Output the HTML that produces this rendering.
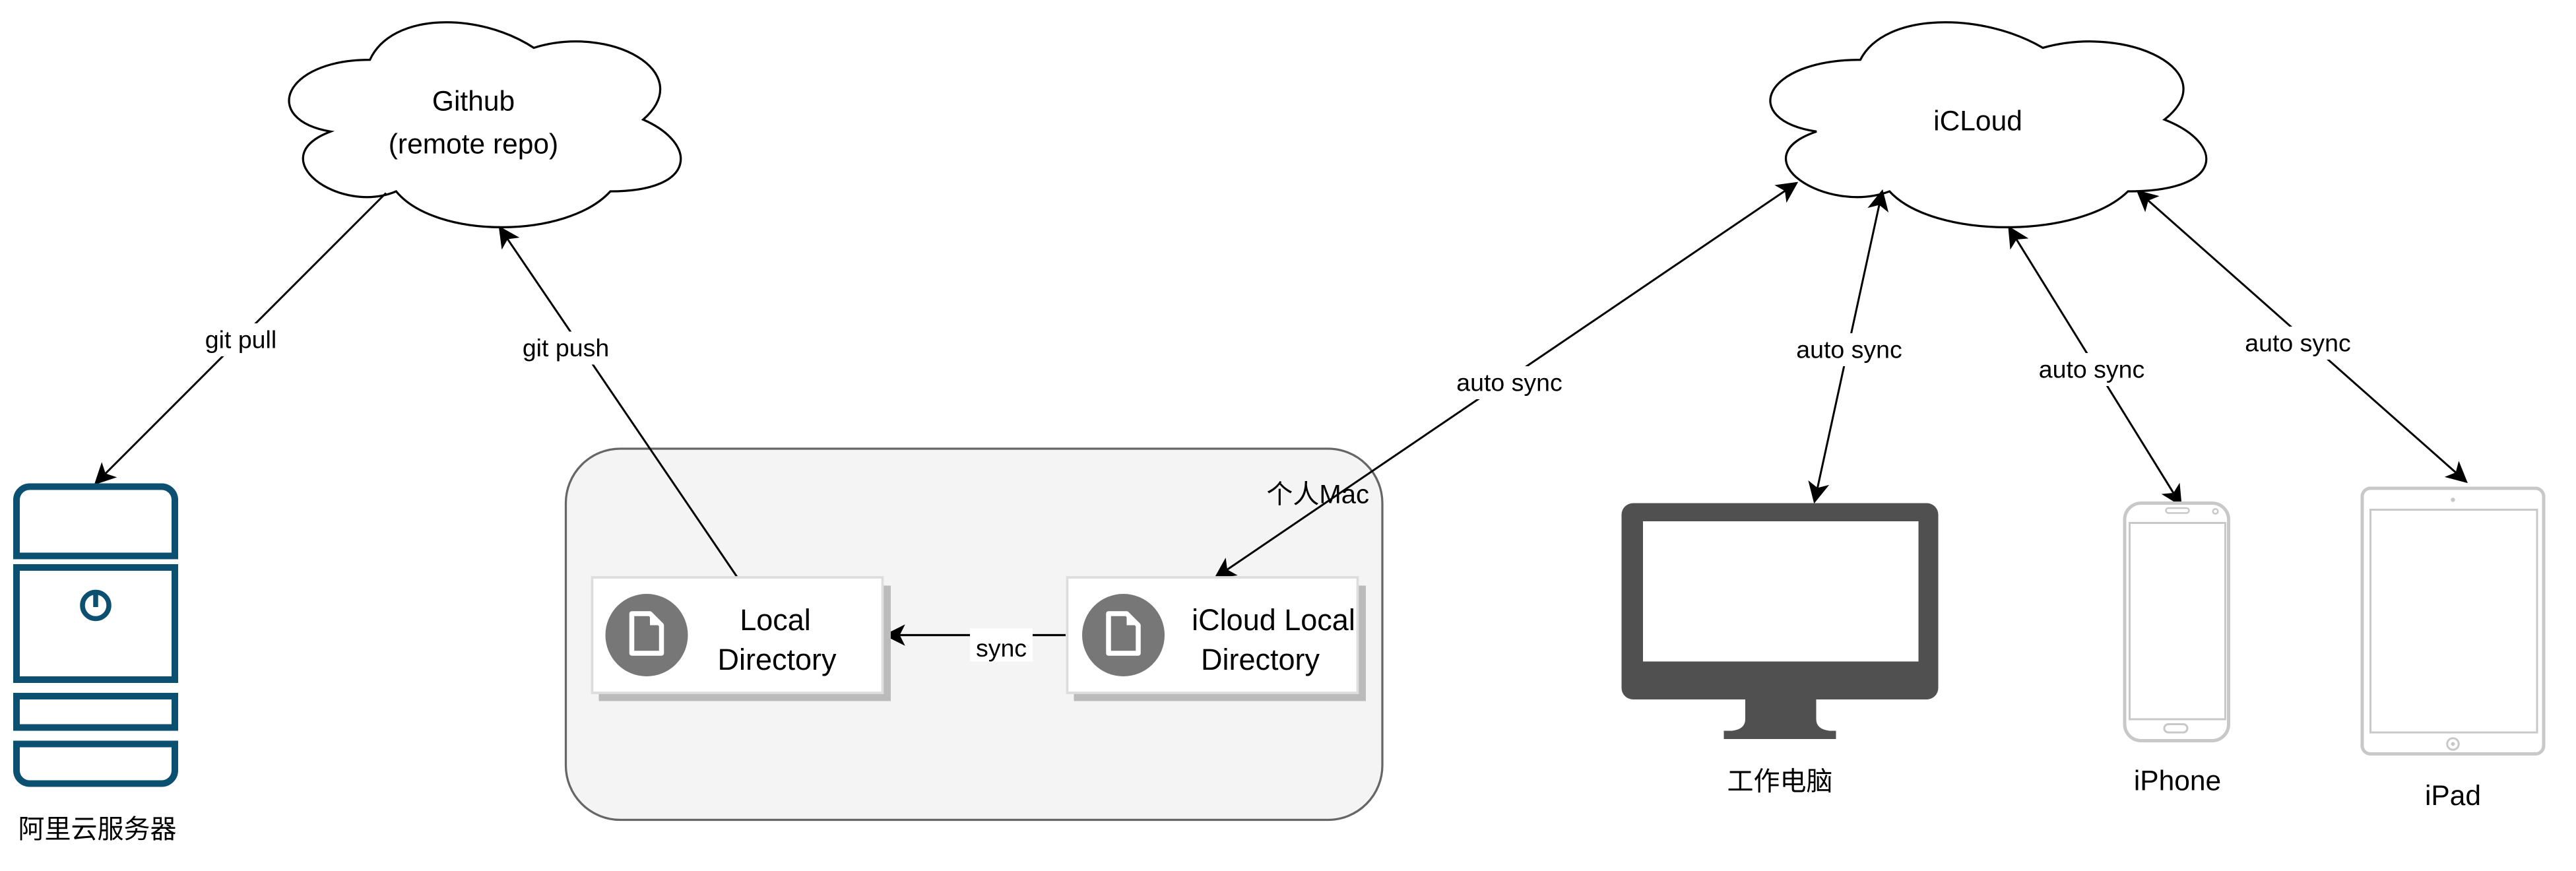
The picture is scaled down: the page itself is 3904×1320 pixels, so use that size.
<!DOCTYPE html>
<html><head><meta charset="utf-8"><style>
html,body{margin:0;padding:0;background:#fff;}
svg{display:block;}
text{font-family:"Liberation Sans","Noto Sans CJK SC",sans-serif;fill:#000;}
</style></head><body>
<svg width="3904" height="1320" viewBox="0 0 1561.6 528" xmlns="http://www.w3.org/2000/svg">
<defs>
<marker id="ah" viewBox="0 0 10 10" refX="9" refY="5" markerWidth="13" markerHeight="13" markerUnits="userSpaceOnUse" orient="auto-start-reverse">
<path d="M0,0 L10,5 L0,10 L2.5,5 Z" fill="#000"/>
</marker>
</defs>

<path d="M224.25,36.25 C171.25,36.25 158,72.5 200.4,79.75 C158,95.7 205.7,130.5 240.15,116 C264,145 343.5,145 370,116 C423,116 423,87 389.9,72.5 C423,43.5 370,14.5 323.6,29 C290.5,7.25 237.5,7.25 224.25,36.25 Z" fill="#fff" stroke="#000" stroke-width="1.3"/>
<text x="287" y="67" font-size="17" text-anchor="middle">Github</text>
<text x="287" y="93" font-size="17" text-anchor="middle">(remote repo)</text>

<path d="M1127.75,36.25 C1068.75,36.25 1054,72.5 1101.2,79.75 C1054,95.7 1107.1,130.5 1145.45,116 C1172,145 1260.5,145 1290,116 C1349,116 1349,87 1312.1,72.5 C1349,43.5 1290,14.5 1238.4,29 C1201.5,7.25 1142.5,7.25 1127.75,36.25 Z" fill="#fff" stroke="#000" stroke-width="1.3"/>
<text x="1199" y="79" font-size="17" text-anchor="middle">iCLoud</text>

<rect x="343" y="272" width="495" height="225" rx="33" fill="#f4f4f4" stroke="#666" stroke-width="1.3"/>
<text x="830" y="305" font-size="16" text-anchor="end">个人Mac</text>

<line x1="234" y1="117" x2="58" y2="293" stroke="#000" stroke-width="1.2" marker-end="url(#ah)"/>
<line x1="447" y1="350" x2="303" y2="138" stroke="#000" stroke-width="1.2" marker-end="url(#ah)"/>
<line x1="646" y1="385" x2="537" y2="385" stroke="#000" stroke-width="1.3" marker-end="url(#ah)"/>
<line x1="1089" y1="111" x2="737" y2="350" stroke="#000" stroke-width="1.2" marker-start="url(#ah)" marker-end="url(#ah)"/>
<line x1="1141" y1="116" x2="1100" y2="304" stroke="#000" stroke-width="1.2" marker-start="url(#ah)" marker-end="url(#ah)"/>
<line x1="1218" y1="138" x2="1322" y2="306" stroke="#000" stroke-width="1.2" marker-start="url(#ah)" marker-end="url(#ah)"/>
<line x1="1296" y1="116" x2="1495" y2="292" stroke="#000" stroke-width="1.2" marker-start="url(#ah)" marker-end="url(#ah)"/>

<g font-size="15" text-anchor="middle">
<rect x="113" y="196" width="66" height="20" fill="#fff"/><text x="146" y="211">git pull</text>
<rect x="307" y="201" width="73" height="20" fill="#fff"/><text x="343" y="216">git push</text>
<rect x="588" y="381" width="38" height="20" fill="#fff"/><text x="607" y="398">sync</text>
<rect x="873" y="222" width="84" height="20" fill="#fff"/><text x="915" y="237">auto sync</text>
<rect x="1079" y="202" width="84" height="20" fill="#fff"/><text x="1121" y="217">auto sync</text>
<rect x="1226" y="214" width="84" height="20" fill="#fff"/><text x="1268" y="229">auto sync</text>
<rect x="1351" y="198" width="84" height="20" fill="#fff"/><text x="1393" y="213">auto sync</text>
</g>

<rect x="363" y="355" width="177" height="70" fill="#bbb"/>
<rect x="359" y="350" width="176" height="70" fill="#fff" stroke="#ddd" stroke-width="1.5"/>
<circle cx="392" cy="385" r="25" fill="#777"/>
<path d="M383,372 h11 l7,7 v17 h-18 Z" fill="#777" stroke="#fff" stroke-width="3" stroke-linejoin="round"/>
<path d="M394,372 l7,7 h-7 Z" fill="#fff"/>
<text x="470" y="382" font-size="18" text-anchor="middle">Local</text>
<text x="471" y="406" font-size="18" text-anchor="middle">Directory</text>

<rect x="651" y="355" width="177" height="70" fill="#bbb"/>
<rect x="647" y="350" width="176" height="70" fill="#fff" stroke="#ddd" stroke-width="1.5"/>
<circle cx="681" cy="385" r="25" fill="#777"/>
<path d="M672,372 h11 l7,7 v17 h-18 Z" fill="#777" stroke="#fff" stroke-width="3" stroke-linejoin="round"/>
<path d="M683,372 l7,7 h-7 Z" fill="#fff"/>
<text x="772" y="382" font-size="18" text-anchor="middle">iCloud Local</text>
<text x="764" y="406" font-size="18" text-anchor="middle">Directory</text>

<g fill="none" stroke="#0b4f71" stroke-width="4">
<path d="M10,337 V303 a8,8 0 0 1 8,-8 H98 a8,8 0 0 1 8,8 V337 Z"/>
<rect x="10" y="344" width="96" height="68"/>
<rect x="10" y="422" width="96" height="19"/>
<path d="M10,451 H106 V467 a8,8 0 0 1 -8,8 H18 a8,8 0 0 1 -8,-8 Z"/>
<circle cx="58" cy="367" r="8" stroke-width="3"/>
<line x1="58" y1="360" x2="58" y2="368" stroke-width="3"/>
</g>
<text x="59" y="508" font-size="16" text-anchor="middle">阿里云服务器</text>

<rect x="983" y="305" width="192" height="119" rx="7" fill="#505050"/>
<rect x="996" y="316" width="167" height="85" fill="#fff"/>
<path d="M1058,424 H1101 V436 q0,6 8,7 H1113 V448 H1045 V443 H1050 q8,-1 8,-7 Z" fill="#505050"/>
<text x="1079" y="479" font-size="16" text-anchor="middle">工作电脑</text>

<rect x="1288" y="305" width="63" height="144" rx="10" fill="#fff" stroke="#c8c8c8" stroke-width="2"/>
<rect x="1291" y="317" width="58" height="119" fill="#fff" stroke="#c8c8c8" stroke-width="1.2"/>
<rect x="1313" y="308" width="14" height="3" rx="1.5" fill="none" stroke="#c8c8c8" stroke-width="1"/>
<rect x="1312" y="439" width="14" height="5" rx="2.5" fill="none" stroke="#c8c8c8" stroke-width="1.2"/>
<circle cx="1343" cy="310" r="1.5" fill="none" stroke="#c8c8c8"/>
<text x="1320" y="479" font-size="17" text-anchor="middle">iPhone</text>

<rect x="1432" y="296" width="110" height="161" rx="5" fill="#fff" stroke="#c8c8c8" stroke-width="2"/>
<rect x="1437" y="309" width="101" height="135" fill="#fff" stroke="#c8c8c8" stroke-width="1.2"/>
<circle cx="1487" cy="303" r="1.3" fill="#c8c8c8"/>
<circle cx="1487" cy="451" r="3.5" fill="none" stroke="#c8c8c8" stroke-width="1.2"/>
<circle cx="1487" cy="451" r="1.2" fill="#c8c8c8"/>
<text x="1487" y="488" font-size="17" text-anchor="middle">iPad</text>
</svg>
</body></html>
